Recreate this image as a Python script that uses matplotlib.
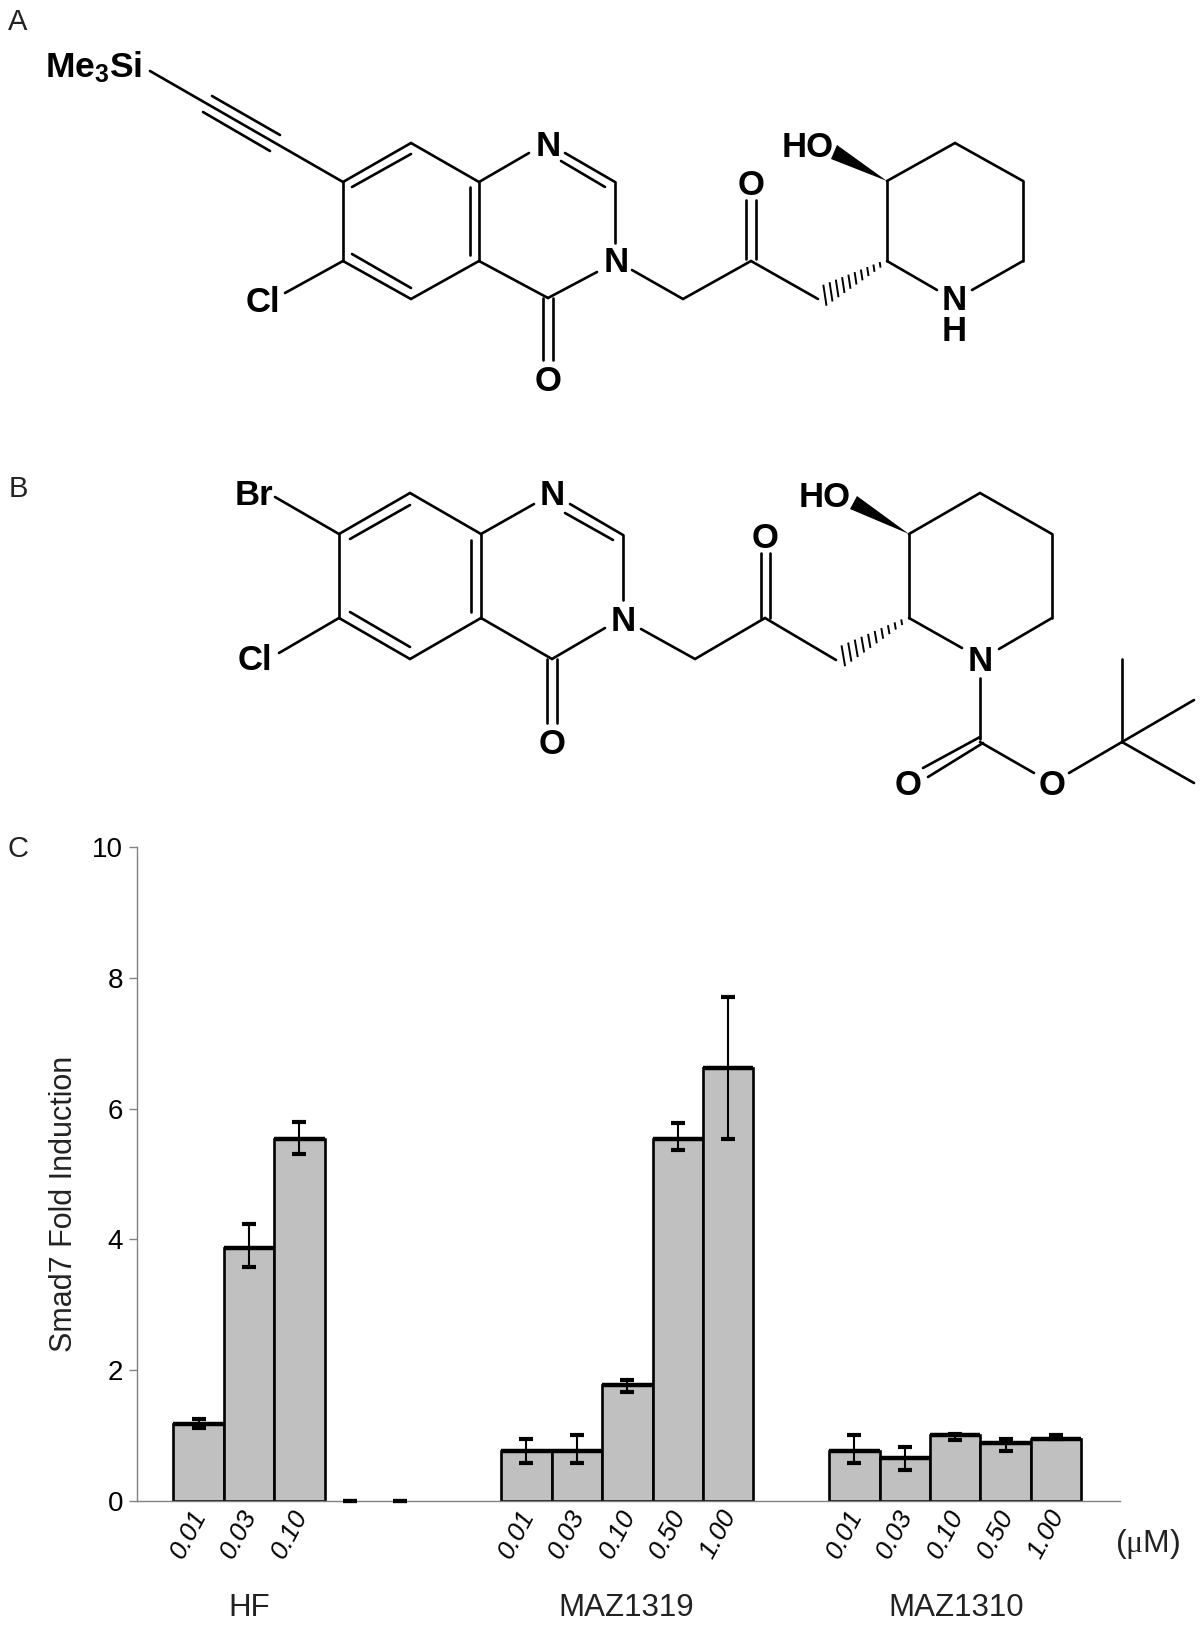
import numpy as np
import matplotlib
matplotlib.use("Agg")
import matplotlib.pyplot as plt
from matplotlib.transforms import ScaledTranslation

plt.rcParams["font.family"] = ["Liberation Sans", "DejaVu Sans"]
plt.rcParams["mathtext.fontset"] = "custom"
plt.rcParams["mathtext.rm"] = "Liberation Serif"
plt.rcParams["mathtext.bf"] = "Liberation Sans:bold"
plt.rcParams["mathtext.default"] = "regular"

# bar chart values
hf_doses = ["0.01", "0.03", "0.10", "", ""]
hf_values = [1.18, 3.87, 5.54, 0, 0]
hf_upper = [1.25, 4.23, 5.79, 0, 0]
hf_lower = [1.12, 3.58, 5.31, 0, 0]

maz1319_doses = ["0.01", "0.03", "0.10", "0.50", "1.00"]
maz1319_values = [0.77, 0.77, 1.78, 5.54, 6.62]
maz1319_upper = [0.95, 1.01, 1.85, 5.78, 7.71]
maz1319_lower = [0.58, 0.58, 1.66, 5.37, 5.54]

maz1310_doses = ["0.01", "0.03", "0.10", "0.50", "1.00"]
maz1310_values = [0.77, 0.65, 1.01, 0.88, 0.95]
maz1310_upper = [1.01, 0.82, 1.03, 0.95, 1.01]
maz1310_lower = [0.58, 0.47, 0.94, 0.76, 0.95]

group_names = ["HF", "MAZ1319", "MAZ1310"]
group_starts = [0, 6.5, 13]

# structures, in image pixels
bonds_a = [
    ((150, 71), (343, 182)), ((212, 96), (280, 135)), ((203, 112), (270, 151)),
    ((343, 182), (411, 143)), ((411, 143), (479, 182)), ((479, 182), (479, 261)),
    ((479, 261), (411, 299)), ((411, 299), (343, 261)), ((343, 261), (343, 182)),
    ((352, 187), (411, 154)), ((470, 187), (470, 255)), ((352, 254), (411, 288)),
    ((343, 261), (285, 293)), ((479, 182), (529, 153)), ((565, 153), (615, 182)),
    ((561, 161), (605, 187)), ((615, 182), (615, 243)), ((597, 272), (548, 298)),
    ((479, 261), (548, 298)), ((543, 298), (543, 360)), ((553, 298), (553, 360)),
    ((632, 270), (683, 299)), ((683, 299), (751, 261)), ((746, 200), (746, 259)),
    ((756, 200), (756, 259)), ((751, 261), (818, 299)), ((887, 181), (887, 261)),
    ((887, 181), (955, 143)), ((955, 143), (1023, 181)), ((1023, 181), (1023, 261)),
    ((1023, 261), (972, 290)), ((887, 261), (937, 290)),
]
labels_a = [
    ("N", 548, 146), ("N", 616, 262), ("O", 548, 381), ("O", 751, 185),
    ("HO", 808, 147), ("N", 954, 300), ("H", 954, 331), ("Cl", 263, 302),
]
bonds_b = [
    ((275, 497), (339, 534)), ((339, 534), (410, 493)), ((410, 493), (481, 534)),
    ((481, 534), (481, 618)), ((481, 618), (410, 659)), ((410, 659), (339, 618)),
    ((339, 618), (339, 534)), ((350, 539), (410, 505)), ((471, 540), (471, 612)),
    ((350, 612), (410, 647)), ((339, 618), (279, 653)), ((481, 534), (534, 504)),
    ((570, 504), (623, 535)), ((565, 513), (613, 540)), ((623, 535), (623, 600)),
    ((605, 628), (552, 659)), ((481, 618), (552, 659)), ((547, 659), (547, 723)),
    ((557, 659), (557, 723)), ((641, 629), (695, 659)), ((695, 659), (765, 618)),
    ((761, 553), (761, 618)), ((770, 553), (770, 618)), ((765, 618), (836, 660)),
    ((909, 534), (909, 618)), ((909, 534), (980, 493)), ((980, 493), (1052, 534)),
    ((1052, 534), (1052, 618)), ((1052, 618), (999, 649)), ((909, 618), (962, 648)),
    ((980, 678), (980, 739)), ((980, 737), (923, 768)), ((983, 743), (928, 777)),
    ((980, 742), (1034, 773)), ((1069, 773), (1122, 742)), ((1122, 742), (1122, 659)),
    ((1122, 742), (1194, 700)), ((1122, 742), (1194, 783)),
]
labels_b = [
    ("Br", 254, 495), ("Cl", 255, 660), ("N", 552, 495), ("N", 623, 621),
    ("O", 552, 744), ("O", 765, 538), ("HO", 825, 497), ("N", 980, 661),
    ("O", 908, 785), ("O", 1052, 785),
]
wedges = [
    [(887, 181), (837, 145), (831, 159)],
    [(909, 534), (857, 496), (850, 509)],
]
hashes = [((887, 261), (818, 299)), ((909, 618), (836, 660))]

panel_letters = [("A", 18, 22), ("B", 18, 489), ("C", 18, 849)]

fig = plt.figure(figsize=(12, 16.27), dpi=100)

# overlay in image pixels for the drawings and loose text
sk = fig.add_axes([0, 0, 1, 1])
sk.set_xlim(0, 1200)
sk.set_ylim(1627, 0)
sk.axis("off")

for p, q in bonds_a + bonds_b:
    sk.plot([p[0], q[0]], [p[1], q[1]], color="black", lw=1.9, solid_capstyle="round")

for w in wedges:
    sk.fill([v[0] for v in w], [v[1] for v in w], color="black", lw=0)

for start, end in hashes:
    start = np.array(start, dtype=float)
    end = np.array(end, dtype=float)
    d = end - start
    n = np.array([-d[1], d[0]]) / np.hypot(d[0], d[1])
    for t in np.linspace(0.1, 0.9, 10):
        c = start + d * t
        half = 1 + 11 * t
        # strokes lean a little, like the original drawing
        tilt = np.array([0.35, 0.0]) * half
        a = c - n * half - tilt
        b = c + n * half + tilt
        sk.plot([a[0], b[0]], [a[1], b[1]], color="black", lw=1.4)

for s, x, y in labels_a + labels_b:
    sk.text(x, y, s, fontsize=25, fontweight="bold", ha="center", va="center")

sk.text(94, 67, r"Me$_{\mathbf{3}}$Si", fontsize=25.5, fontweight="bold", ha="center", va="center")

for s, x, y in panel_letters:
    sk.text(x, y, s, fontsize=21, ha="center", va="center", color="#222222")

# bar chart
ax = fig.add_axes([136.5 / 1200, 1 - 1501 / 1627, (1120 - 136.5) / 1200, 654 / 1627])
ax.patch.set_alpha(0)
slot = 50.45
ax.set_xlim((136.5 - 198.5) / slot, (1120 - 198.5) / slot)
ax.set_ylim(0, 10)

groups = [
    (hf_doses, hf_values, hf_upper, hf_lower),
    (maz1319_doses, maz1319_values, maz1319_upper, maz1319_lower),
    (maz1310_doses, maz1310_values, maz1310_upper, maz1310_lower),
]
all_x = []
all_labels = []
for start, (doses, values, upper, lower) in zip(group_starts, groups):
    x = start + np.arange(len(values))
    values = np.array(values)
    shown = values > 0
    ax.bar(x[shown], values[shown], width=1, color="#C0C0C0", edgecolor="black", lw=1.9, zorder=2)
    ax.hlines(values[shown], x[shown] - 0.5, x[shown] + 0.5, color="black", lw=3.2, zorder=3)
    yerr = [values - np.array(lower), np.array(upper) - values]
    ax.errorbar(x, values, yerr=yerr, fmt="none", ecolor="black", elinewidth=1.5,
                capsize=4.7, capthick=3, zorder=4, clip_on=False)
    all_x.extend(x)
    all_labels.extend(doses)

for s in ["top", "right"]:
    ax.spines[s].set_visible(False)
for s in ["left", "bottom"]:
    ax.spines[s].set_color("#808080")
    ax.spines[s].set_linewidth(1)

ax.set_yticks([0, 2, 4, 6, 8, 10])
ax.tick_params(axis="y", length=6, width=1, color="#808080", labelsize=20, pad=3.5)

ax.set_xticks(all_x)
ax.set_xticklabels(all_labels, rotation=62, fontsize=19, fontstyle="italic", ha="center", va="top")
ax.tick_params(axis="x", length=0, pad=3.6)
shift = ScaledTranslation(-10 / 100, 0, fig.dpi_scale_trans)
for lab in ax.get_xticklabels():
    lab.set_transform(lab.get_transform() + shift)

sk.text(64, 1204, "Smad7 Fold Induction", fontsize=22, rotation=90, ha="center", va="center", color="#222222")

for name, x in zip(group_names, [249, 626, 956]):
    sk.text(x, 1608, name, fontsize=22.5, ha="center", va="center", color="#222222")

sk.text(1148, 1544, r"($\mathrm{\mu}$M)", fontsize=23, ha="center", va="center", color="#222222")

fig.savefig("out.png", dpi=100)
